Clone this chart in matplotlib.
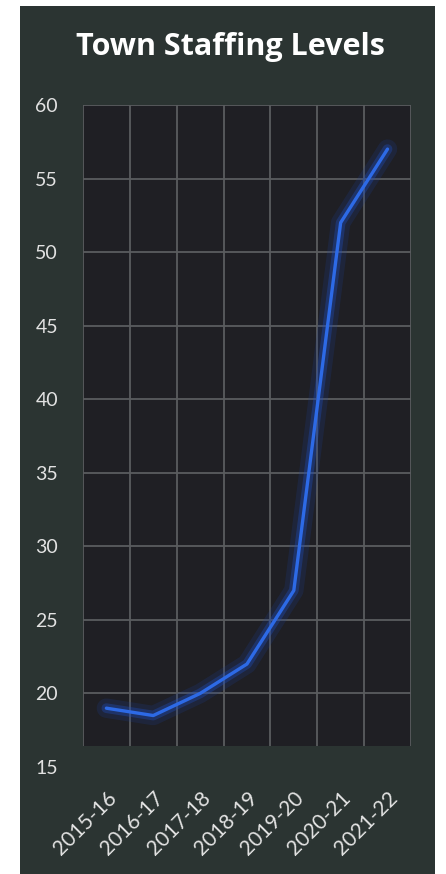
import numpy as np
import matplotlib.pyplot as plt
from matplotlib.patches import Rectangle

# staffing by fiscal year
years = ["2015-16", "2016-17", "2017-18", "2018-19", "2019-20", "2020-21", "2021-22"]
staff = [19, 18.5, 20, 22, 27, 52, 57]
y_ticks = [15, 20, 25, 30, 35, 40, 45, 50, 55, 60]

panel_color = "#2b3432"
plot_color = "#1f1f24"
grid_color = "#5a5c5f"
text_color = "#e2e2e2"
line_color = "#2d6ae6"

plt.rcParams["font.family"] = ["Lato", "DejaVu Sans"]

fig = plt.figure(figsize=(4.46, 8.74), dpi=100)
fig.patch.set_facecolor("white")
fig.patches.append(
    Rectangle((20 / 446, 0), 415 / 446, 1 - 6 / 874, transform=fig.transFigure,
              facecolor=panel_color, edgecolor="none", zorder=-10)
)

ax = fig.add_axes([0.186, 0.1224, 0.7354, 0.7575])
ax.set_facecolor("none")
for s in ax.spines.values():
    s.set_visible(False)

x = np.arange(len(years))
ax.set_xlim(-0.5, len(years) - 0.5)
ax.set_ylim(15, 60)

# dark plotting area, stops a little above the bottom tick
bg = Rectangle((0, 0.031), 1, 0.969, transform=ax.transAxes,
               facecolor=plot_color, edgecolor="none", zorder=0)
ax.add_patch(bg)

ax.set_yticks(y_ticks)
ax.set_yticklabels([str(v) for v in y_ticks])
ax.set_xticks(x)
ax.set_xticklabels(years, rotation=45, ha="right", va="top", rotation_mode="anchor")
ax.set_xticks(np.arange(-0.5, len(years), 1), minor=True)
ax.tick_params(axis="both", which="both", length=0, colors=text_color)
ax.tick_params(axis="y", pad=18, labelsize=14)
ax.tick_params(axis="x", pad=15, labelsize=15)

ax.grid(axis="y", which="major", color=grid_color, linewidth=1.3)
ax.grid(axis="x", which="minor", color=grid_color, linewidth=1.3)
ax.grid(axis="x", which="major", visible=False)
for t in ax.xaxis.get_minor_ticks() + ax.yaxis.get_major_ticks():
    t.gridline.set_clip_path(bg)
ax.set_axisbelow(True)

# soft glow under the line
ax.plot(x, staff, color="#1b3f9a", linewidth=14, alpha=0.2, solid_capstyle="round", zorder=2)
ax.plot(x, staff, color="#2050c0", linewidth=7, alpha=0.35, solid_capstyle="round", zorder=3)
ax.plot(x, staff, color=line_color, linewidth=2.4, solid_capstyle="round", zorder=4)

fig.text(0.516, 1 - 47 / 874, "Town Staffing Levels", color="white", fontsize=22,
         fontweight="bold", family="Open Sans", ha="center", va="center")

fig.savefig("out.png", dpi=100, facecolor=fig.get_facecolor())
